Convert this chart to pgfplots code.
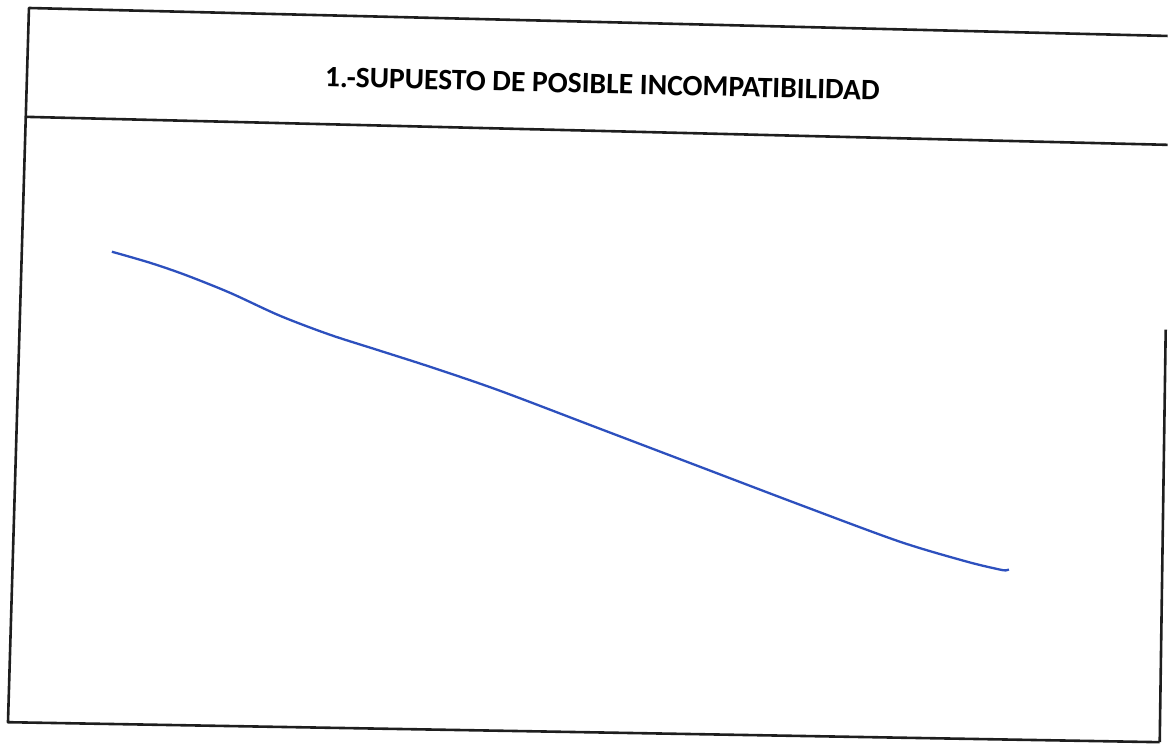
\documentclass[border=0pt]{standalone}
\usepackage{pgfplots}
\pgfplotsset{compat=1.18}
\usepackage{fontspec}
\setmainfont{Carlito}
\definecolor{ink}{RGB}{30,30,30}
\definecolor{pen}{RGB}{45,80,190}
\begin{document}
\begin{tikzpicture}
\begin{axis}[
  scale only axis, width=584.5bp, height=373bp,
  xmin=0, xmax=1169, ymin=0, ymax=746, y dir=reverse,
  hide axis, clip=false]
\path (axis cs:0,0) rectangle (axis cs:1169,746);
% frame
\draw[ink, line width=1.3bp, line join=round] (axis cs:1169,36) -- (axis cs:29,8) -- (axis cs:8,723) -- (axis cs:1161,743);
\draw[ink, line width=1.3bp] (axis cs:27,117) -- (axis cs:1169,145);
\draw[ink, line width=1.3bp] (axis cs:1167,330) -- (axis cs:1161,743);
\node[rotate=-1.4, font=\bfseries\fontsize{14.8bp}{18bp}\selectfont, text=black] at (axis cs:603,84) {1.-SUPUESTO DE POSIBLE INCOMPATIBILIDAD};
% hand-drawn curve
\addplot[pen, line width=1.15bp, smooth, tension=0.5] coordinates {
 (112,252) (150,263) (185,275) (230,293) (280,316) (330,335) (380,351) (433,368)
 (500,391) (600,429) (700,467) (800,505) (900,542) (967,562) (1000,570) (1007,571) (1010,570)
};
\end{axis}
\end{tikzpicture}
\end{document}
